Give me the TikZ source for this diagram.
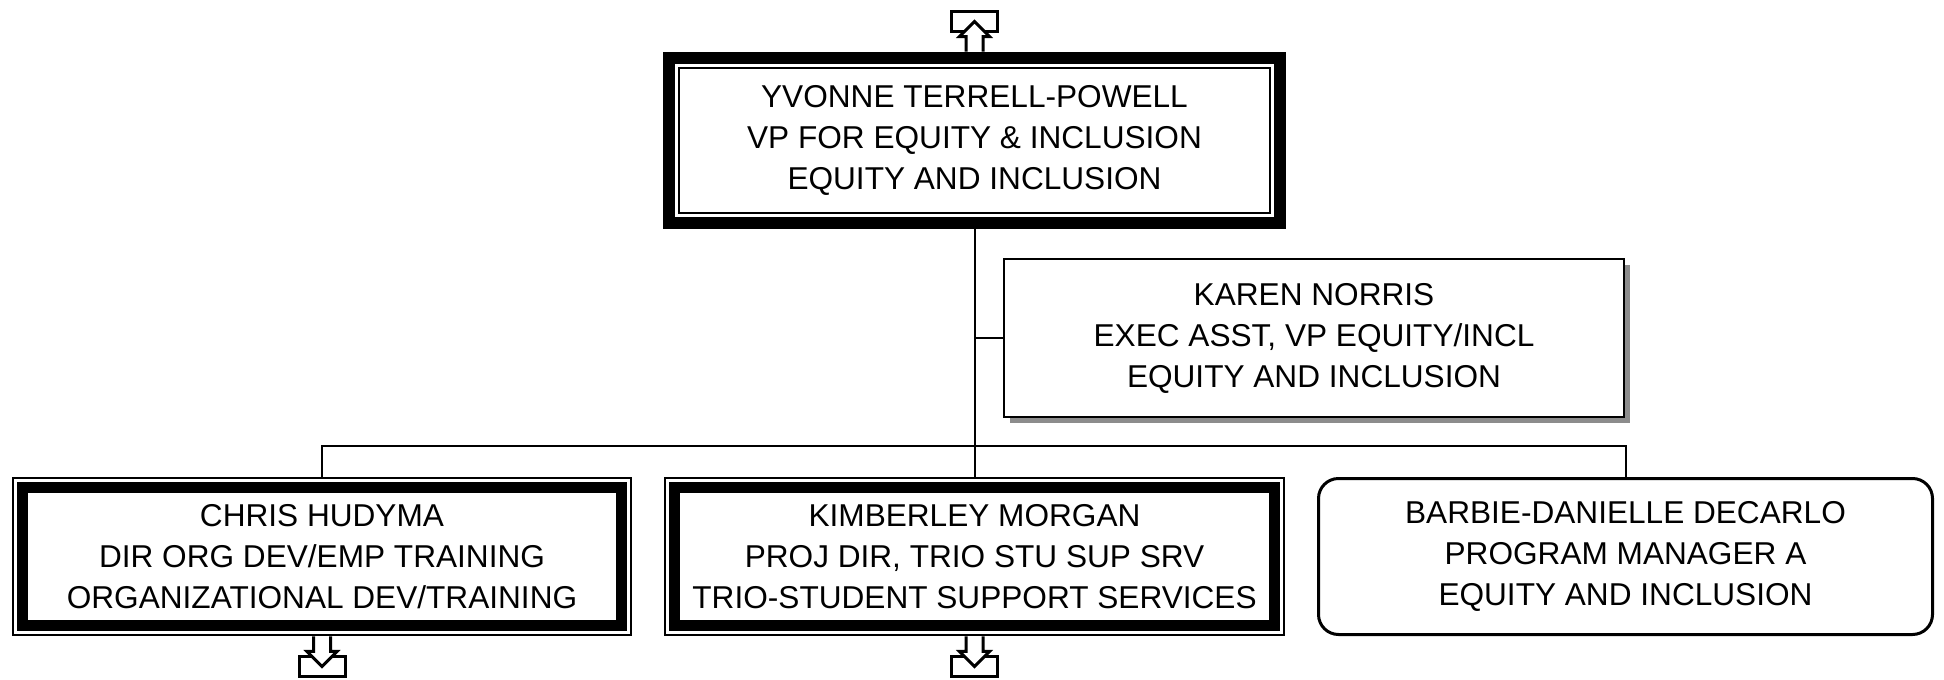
\documentclass[tikz,border=0pt]{standalone}
\usepackage{fontspec}
\setmainfont{Liberation Sans}
\usepackage{xcolor}
\usetikzlibrary{positioning,shadows}

\tikzset{
  bossbox/.style={minimum width=311.5pt, minimum height=88.5pt},
  staffbox/.style={draw, line width=1pt, fill=white, minimum width=310pt, minimum height=79pt,
    drop shadow={shadow xshift=3pt, shadow yshift=-3pt, fill=black!45, opacity=1}},
  unitbox/.style={minimum width=310pt, minimum height=79.5pt},
  leafbox/.style={draw, line width=1.5pt, rounded corners=10pt, minimum width=307pt, minimum height=78pt},
  link/.style={draw, line width=1pt},
  heavyrule/.style={line width=6pt},
  midrule/.style={line width=5.5pt},
  lightrule/.style={line width=1pt},
  offpage/.pic={
    \draw[line width=1.5pt, fill=white] (-23,20) rectangle (23,40);
    \draw[line width=1.5pt, fill=white] (-8.5,0) -- (-8.5,15) -- (-15,15) -- (0,30) -- (15,15) -- (8.5,15) -- (8.5,0);
  }
}

\begin{document}
\begin{tikzpicture}[x=0.5pt, y=-0.5pt, every node/.style={align=center, inner sep=0pt, font=\fontsize{15.8}{20.5}\selectfont}]
\fill[white] (0,0) rectangle (1944,680);
\useasboundingbox (0,0) rectangle (1944,680);

\node[bossbox] (vp) at (974.5,140.5) {YVONNE TERRELL-POWELL\\VP FOR EQUITY \& INCLUSION\\EQUITY AND INCLUSION};
\node[staffbox] (norris) at (1314,338) {KAREN NORRIS\\EXEC ASST, VP EQUITY/INCL\\EQUITY AND INCLUSION};
\node[unitbox] (hudyma) at (322,556.5) {CHRIS HUDYMA\\DIR ORG DEV/EMP TRAINING\\ORGANIZATIONAL DEV/TRAINING};
\node[unitbox] (morgan) at (974.5,556.5) {KIMBERLEY MORGAN\\PROJ DIR, TRIO STU SUP SRV\\TRIO-STUDENT SUPPORT SERVICES};
\node[leafbox] (decarlo) at (1625.5,556.5) {BARBIE-DANIELLE DECARLO\\PROGRAM MANAGER A\\EQUITY AND INCLUSION};

% frames
\draw[heavyrule] ([xshift=3pt,yshift=-3pt]vp.north west) rectangle ([xshift=-3pt,yshift=3pt]vp.south east);
\draw[lightrule] ([xshift=8pt,yshift=-8pt]vp.north west) rectangle ([xshift=-8pt,yshift=8pt]vp.south east);
\draw[lightrule] ([xshift=0.5pt,yshift=-0.5pt]hudyma.north west) rectangle ([xshift=-0.5pt,yshift=0.5pt]hudyma.south east);
\draw[midrule] ([xshift=5.25pt,yshift=-5.25pt]hudyma.north west) rectangle ([xshift=-5.25pt,yshift=5.25pt]hudyma.south east);
\draw[lightrule] ([xshift=0.5pt,yshift=-0.5pt]morgan.north west) rectangle ([xshift=-0.5pt,yshift=0.5pt]morgan.south east);
\draw[midrule] ([xshift=5.25pt,yshift=-5.25pt]morgan.north west) rectangle ([xshift=-5.25pt,yshift=5.25pt]morgan.south east);

% connectors
\coordinate (bus) at (974.5,446);
\draw[link] (vp.south) -- (morgan.north);
\draw[link] (vp.south |- norris.west) -- (norris.west);
\draw[link] (hudyma.north) |- (bus) -| (decarlo.north);

% off-page arrows
\pic[rotate=180] at (vp.north) {offpage};
\pic at (hudyma.south) {offpage};
\pic at (morgan.south) {offpage};
\end{tikzpicture}
\end{document}
